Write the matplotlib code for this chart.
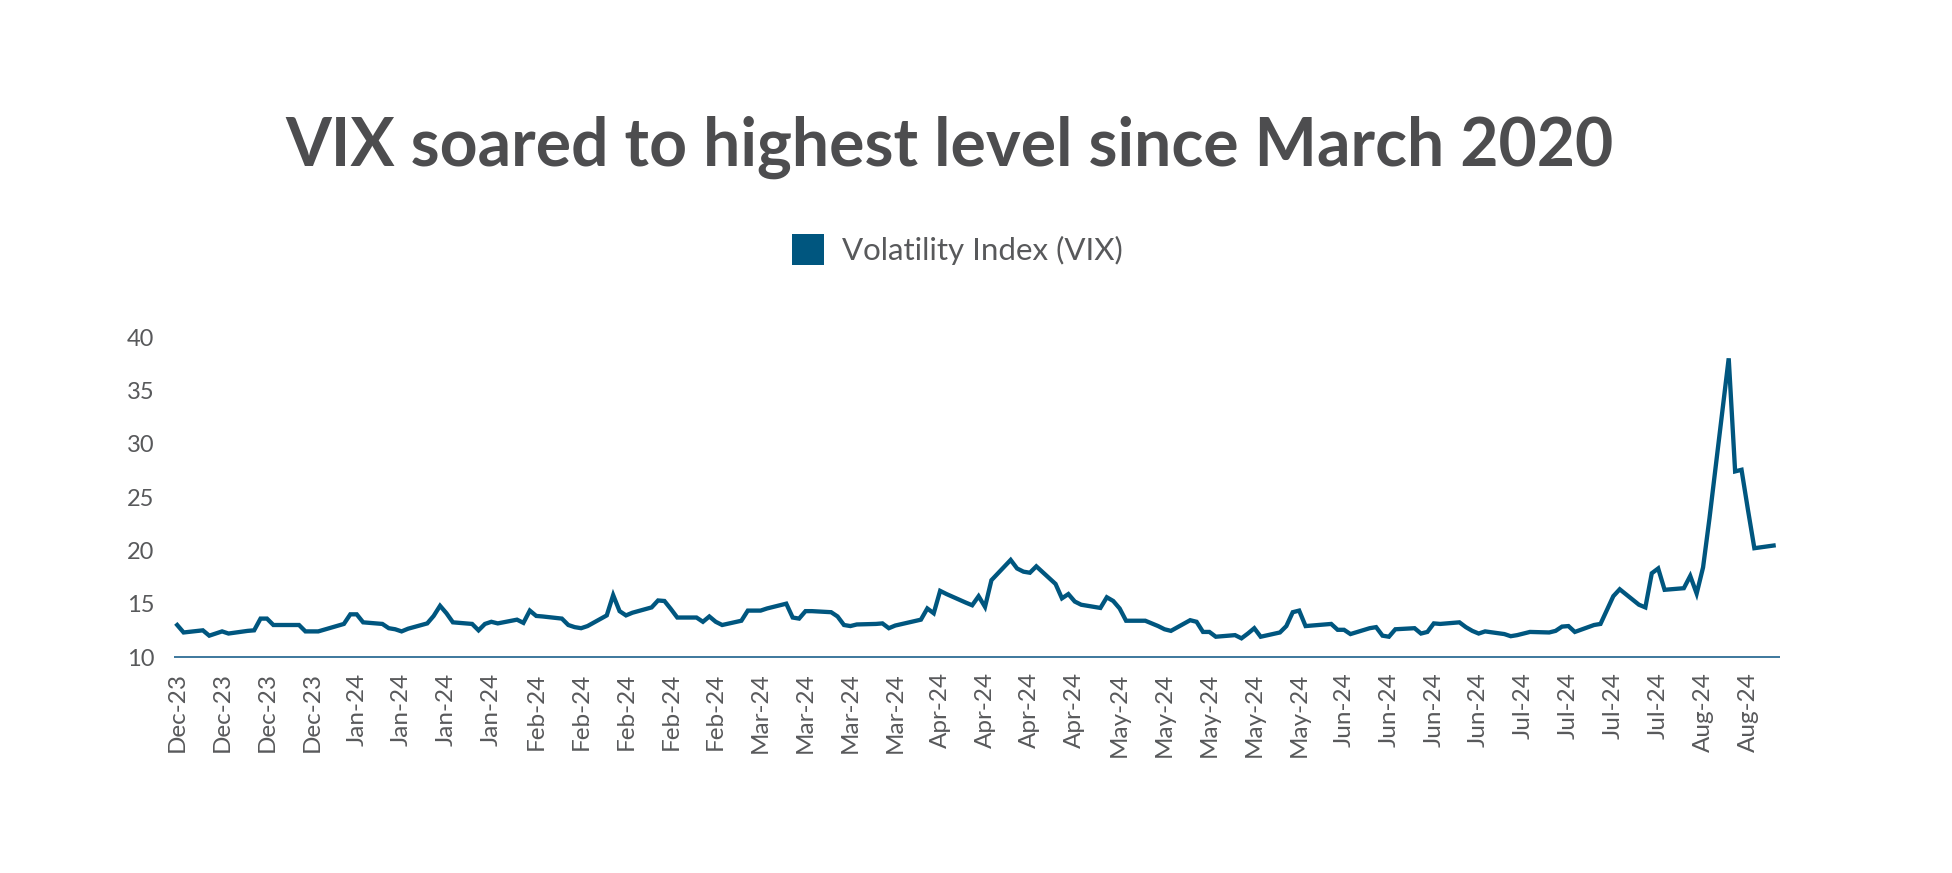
import matplotlib
matplotlib.use("Agg")
import matplotlib.pyplot as plt
from matplotlib.patches import Rectangle
import pandas as pd

# ---------------- data (VIX daily close) ----------------
dec23_days = [7, 8, 11, 12, 13, 14, 15, 18, 19, 20, 21, 22, 26, 27, 28, 29]
dec23_vals = [13.0, 12.3, 12.5, 12.0, 12.2, 12.4, 12.2, 12.45, 12.5, 13.6, 13.6, 13.0,
              13.0, 12.4, 12.4, 12.4]

jan24_days = [2, 3, 4, 5, 8, 9, 10, 11, 12, 15, 16, 17, 18, 19, 22, 23, 24, 25, 26, 29, 30, 31]
jan24_vals = [13.1, 14.0, 14.0, 13.25, 13.1, 12.7, 12.6, 12.4, 12.65, 13.15, 13.85, 14.8,
              14.1, 13.25, 13.1, 12.5, 13.1, 13.3, 13.15, 13.5, 13.2, 14.35]

feb24_days = [1, 2, 5, 6, 7, 8, 9, 12, 13, 14, 15, 16, 19, 20, 21, 22, 23, 26, 27, 28, 29]
feb24_vals = [13.85, 13.8, 13.6, 13.0, 12.8, 12.7, 12.9, 13.9, 15.8, 14.3, 13.9, 14.15,
              14.65, 15.3, 15.25, 14.5, 13.7, 13.7, 13.3, 13.8, 13.3]

mar24_days = [1, 4, 5, 6, 7, 8, 11, 12, 13, 14, 15, 18, 19, 20, 21, 22, 25, 26, 27, 28]
mar24_vals = [13.0, 13.4, 14.35, 14.35, 14.35, 14.55, 15.0, 13.7, 13.6, 14.3, 14.3, 14.2,
              13.8, 13.0, 12.9, 13.05, 13.1, 13.15, 12.7, 12.95]

apr24_days = [1, 2, 3, 4, 5, 8, 9, 10, 11, 12, 15, 16, 17, 18, 19, 22, 23, 24, 25, 26, 29, 30]
apr24_vals = [13.5, 14.55, 14.1, 16.2, 15.9, 15.1, 14.85, 15.7, 14.7, 17.2, 19.1, 18.3,
              18.0, 17.9, 18.5, 16.85, 15.5, 15.9, 15.2, 14.9, 14.6, 15.6]

may24_days = [1, 2, 3, 6, 7, 8, 9, 10, 13, 14, 15, 16, 17, 20, 21, 22, 23, 24, 27, 28, 29, 30, 31]
may24_vals = [15.25, 14.55, 13.4, 13.4, 13.15, 12.9, 12.6, 12.45, 13.45, 13.3, 12.35, 12.35,
              11.9, 12.05, 11.75, 12.2, 12.7, 11.9, 12.3, 12.9, 14.2, 14.35, 12.9]

jun24_days = [3, 4, 5, 6, 7, 10, 11, 12, 13, 14, 17, 18, 19, 20, 21, 24, 25, 26, 27, 28]
jun24_vals = [13.05, 13.1, 12.55, 12.55, 12.15, 12.7, 12.8, 12.0, 11.9, 12.6, 12.7, 12.2,
              12.35, 13.15, 13.1, 13.25, 12.8, 12.45, 12.2, 12.4]

jul24_days = [1, 2, 3, 5, 8, 9, 10, 11, 12, 15, 16, 17, 18, 19, 22, 23, 24, 25, 26, 29, 30, 31]
jul24_vals = [12.15, 11.95, 12.05, 12.35, 12.3, 12.45, 12.85, 12.9, 12.35, 13.0, 13.1, 14.4,
              15.7, 16.35, 14.9, 14.65, 17.85, 18.3, 16.3, 16.45, 17.6, 15.95]

aug24_days = [1, 2, 5, 6, 7, 8, 9, 12]
aug24_vals = [18.4, 23.0, 38.0, 27.4, 27.55, 23.8, 20.2, 20.45]

tick_labels = (["Dec-23"] * 4 + ["Jan-24"] * 4 + ["Feb-24"] * 5 + ["Mar-24"] * 4 +
               ["Apr-24"] * 4 + ["May-24"] * 5 + ["Jun-24"] * 4 + ["Jul-24"] * 4 +
               ["Aug-24"] * 2)
first_tick = "2023-12-07"

series_name = "Volatility Index (VIX)"
title = "VIX soared to highest level since March 2020"
y_ticks = [10, 15, 20, 25, 30, 35, 40]

# ---------------- build the series ----------------
months = [(2023, 12, dec23_days, dec23_vals), (2024, 1, jan24_days, jan24_vals),
          (2024, 2, feb24_days, feb24_vals), (2024, 3, mar24_days, mar24_vals),
          (2024, 4, apr24_days, apr24_vals), (2024, 5, may24_days, may24_vals),
          (2024, 6, jun24_days, jun24_vals), (2024, 7, jul24_days, jul24_vals),
          (2024, 8, aug24_days, aug24_vals)]
dates, values = [], []
for yr, mo, days, vals in months:
    for d, v in zip(days, vals):
        dates.append(pd.Timestamp(year=yr, month=mo, day=d))
        values.append(v)

tick_dates = pd.date_range(first_tick, periods=len(tick_labels), freq="7D")

# ---------------- figure ----------------
W, H = 1952, 873
fig = plt.figure(figsize=(W / 100, H / 100), dpi=100)
fig.patch.set_facecolor("white")

line_color = "#00567F"
text_color = "#58595B"
axis_color = "#2E6D95"
font = "Lato"

ax = fig.add_axes([174 / W, 1 - 657 / H, (1780 - 174) / W, (657 - 337) / H])
ax.plot(dates, values, color=line_color, linewidth=3.1, solid_joinstyle="miter")

ax.set_ylim(10, 40)
ax.set_xlim(pd.Timestamp("2023-12-06 12:00"), pd.Timestamp("2024-08-13"))
ax.set_yticks(y_ticks)
ax.set_yticklabels([str(t) for t in y_ticks], fontsize=17, color=text_color, family=font)
ax.set_xticks(tick_dates)
ax.set_xticklabels(tick_labels, rotation=90, fontsize=17.5, color=text_color, family=font)
ax.tick_params(axis="both", length=0)
ax.tick_params(axis="y", pad=14)
ax.tick_params(axis="x", pad=11)

for s in ["top", "right", "left"]:
    ax.spines[s].set_visible(False)
ax.spines["bottom"].set_color(axis_color)
ax.spines["bottom"].set_linewidth(1.3)
ax.spines["bottom"].set_capstyle("butt")
ax.set_facecolor("white")

# title
fig.text(949 / W, 1 - 147 / H, title, ha="center", va="center", fontsize=47.5,
         fontweight="bold", color="#4D4D4F", family=font)

# legend
fig.patches.append(Rectangle((792 / W, 1 - 265 / H), 32 / W, 31 / H,
                             transform=fig.transFigure, facecolor=line_color,
                             edgecolor="none"))
fig.text(842 / W, 1 - 250 / H, series_name, ha="left", va="center", fontsize=22.5,
         color=text_color, family=font)

fig.savefig("out.png", dpi=100, facecolor="white")
